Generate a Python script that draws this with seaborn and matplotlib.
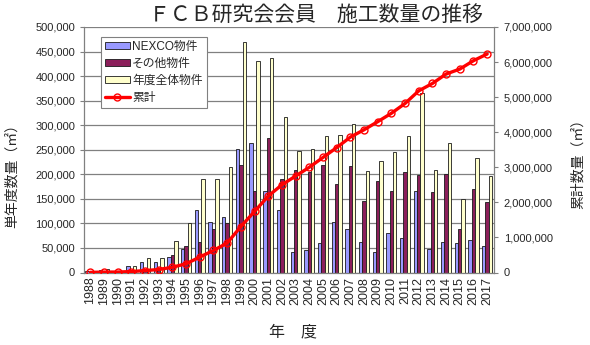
import numpy as np
import pandas as pd
import matplotlib
matplotlib.use("Agg")
import matplotlib.pyplot as plt
from matplotlib.ticker import FuncFormatter, MultipleLocator, FixedLocator
from matplotlib.lines import Line2D
import seaborn as sns

# ---- data ----
years = [str(y) for y in range(1988, 2018)]
nexco = [3000, 6000, 1000, 13000, 22000, 22000, 31000, 48000, 127000, 102000,
         113000, 251000, 263000, 165000, 127000, 41000, 45000, 60000, 102000, 88000,
         62000, 42000, 80000, 71000, 167000, 47000, 63000, 60000, 66000, 53000]
other = [1000, 2000, 500, 1000, 7000, 7000, 35000, 54000, 62000, 89000,
         101000, 219000, 167000, 273000, 190000, 208000, 205000, 218000, 180000, 216000,
         146000, 186000, 167000, 204000, 199000, 164000, 201000, 89000, 170000, 144000]
total = [4000, 8000, 1500, 14000, 29000, 29000, 65000, 101000, 190000, 190000,
         215000, 469000, 430000, 437000, 317000, 248000, 251000, 277000, 281000, 303000,
         207000, 228000, 246000, 277000, 365000, 209000, 264000, 149000, 234000, 197000]
cumulative = [4000, 12000, 13000, 27000, 56000, 85000, 150000, 250000, 440000, 630000,
              840000, 1310000, 1740000, 2180000, 2500000, 2750000, 3000000, 3280000, 3560000, 3860000,
              4070000, 4300000, 4540000, 4820000, 5180000, 5390000, 5660000, 5800000, 6040000, 6230000]
series_names = ["NEXCO物件", "その他物件", "年度全体物件"]
line_name = "累計"

title = "ＦＣＢ研究会会員　施工数量の推移"
left_label = "単年度数量（㎡）"
right_label = "累計数量（㎡）"
x_label = "年　度"

df = pd.DataFrame({
    "year": years * 3,
    "value": nexco + other + total,
    "series": [series_names[0]] * len(years) + [series_names[1]] * len(years) + [series_names[2]] * len(years),
})

# ---- style ----
sns.set_style("white")
plt.rcParams["font.family"] = ["Liberation Sans", "Noto Sans CJK JP", "DejaVu Sans"]

fig = plt.figure(figsize=(5.9, 3.45), dpi=100)
ax = fig.add_axes([83.5 / 590, 1 - 272.5 / 345, (494 - 83.5) / 590, (272.5 - 27) / 345])

palette = {series_names[0]: "#9999FF", series_names[1]: "#8B1F5A", series_names[2]: "#FFFFCC"}
sns.barplot(data=df, x="year", y="value", hue="series", hue_order=series_names,
            palette=palette, width=0.74, edgecolor="#1a1a1a", linewidth=0.6,
            dodge=True, ax=ax, saturation=1, legend=True)

ax.set_ylim(0, 500000)
ax.yaxis.set_major_locator(MultipleLocator(50000))
ax.yaxis.set_major_formatter(FuncFormatter(lambda v, p: f"{int(v):,}"))
ax.set_axisbelow(True)
ax.yaxis.grid(True, color="#808080", linewidth=0.9)
ax.xaxis.grid(False)
ax.set_xlabel("")
ax.set_ylabel("")
ax.set_xlim(-0.5, len(years) - 0.5)
ax.tick_params(axis="y", labelsize=8, length=3, color="#808080", pad=3)
ax.tick_params(axis="x", labelsize=9, rotation=90, length=0, pad=3)
ax.xaxis.set_minor_locator(FixedLocator(np.arange(-0.5, len(years), 1.0)))
ax.tick_params(axis="x", which="minor", length=3, color="#808080")
for s in ["left", "bottom"]:
    ax.spines[s].set_color("#808080")
    ax.spines[s].set_linewidth(0.9)
ax.spines["top"].set_visible(False)
ax.spines["right"].set_visible(False)

handles, labels = ax.get_legend_handles_labels()
ax.get_legend().remove()

# cumulative line on twin axis
ax2 = ax.twinx()
sns.lineplot(x=np.arange(len(years)), y=cumulative, ax=ax2, color="#FF0000",
             linewidth=2.4, marker="o", markersize=5, markerfacecolor="none",
             markeredgecolor="#FF0000", markeredgewidth=1.0, label=line_name)
ax2.set_ylim(0, 7000000)
ax2.yaxis.set_major_locator(MultipleLocator(1000000))
ax2.yaxis.set_major_formatter(FuncFormatter(lambda v, p: f"{int(v):,}"))
ax2.tick_params(axis="y", labelsize=8, length=3, color="#808080", pad=4)
ax2.set_ylabel("")
for s in ["top", "left", "bottom"]:
    ax2.spines[s].set_visible(False)
ax2.spines["right"].set_color("#808080")
ax2.spines["right"].set_linewidth(0.9)
ax2.set_xlim(-0.5, len(years) - 0.5)

h2, l2 = ax2.get_legend_handles_labels()
ax2.get_legend().remove()

leg = ax2.legend(handles + h2, labels + l2, loc="upper left",
                 bbox_to_anchor=(0.042, 0.96), fontsize=8.5, frameon=True,
                 fancybox=False, edgecolor="#808080", framealpha=1,
                 handlelength=2.1, handleheight=0.5, handletextpad=0.2,
                 labelspacing=0.42, borderpad=0.35, borderaxespad=0)
leg.get_frame().set_linewidth(0.8)

# texts
fig.text(0.535, 0.957, title, ha="center", va="center", fontsize=15)
fig.text(12 / 590, 1 - 172 / 345, left_label, rotation=90, ha="center", va="center", fontsize=10)
fig.text(578 / 590, 1 - 160 / 345, right_label, rotation=90, ha="center", va="center", fontsize=10)
fig.text(293 / 590, 1 - 332 / 345, x_label, ha="center", va="center", fontsize=11.5)

fig.savefig("out.png", dpi=100)
